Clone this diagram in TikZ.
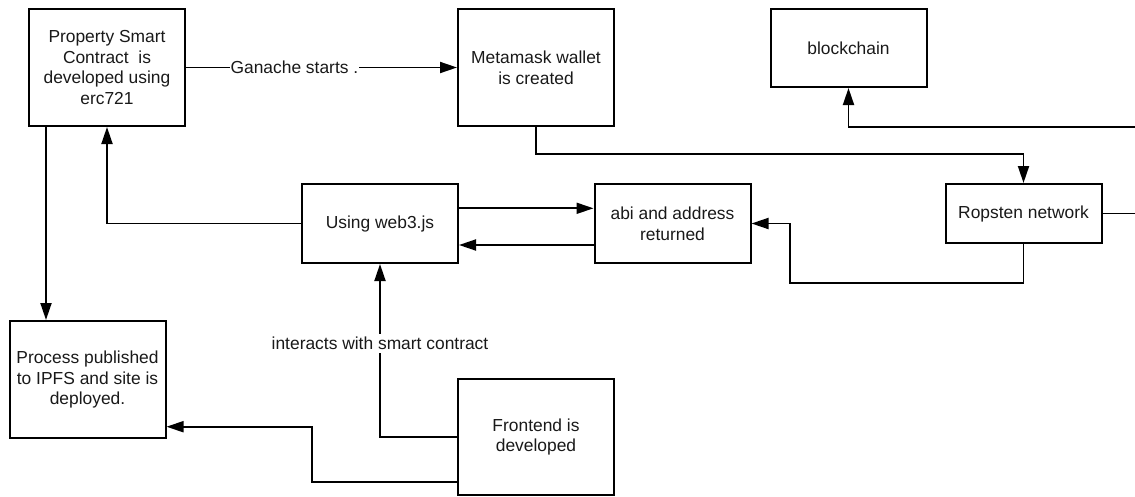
\documentclass[tikz,border=0pt]{standalone}
\usepackage{fontspec}
\setmainfont{Liberation Sans}
\usetikzlibrary{arrows.meta,calc}
\begin{document}
\begin{tikzpicture}[x=1pt,y=-1pt,
  box/.style={draw=black, line width=2pt, align=center, minimum width=156pt,
    font=\fontsize{17.4}{20.8}\selectfont, text=black!90, inner sep=0pt},
  conn/.style={line width=1.9pt, draw=black},
  arr/.style={conn, -{Triangle[length=17pt,width=11pt]}},
  lbl/.style={fill=white, font=\fontsize{17.4}{20.8}\selectfont, text=black!90, inner xsep=1pt, inner ysep=3pt}]
\path[use as bounding box] (0,0) rectangle (1135,496);
\clip (0,0) rectangle (1135,496);
\node[box, minimum height=117pt] (prop) at (107,67.5) {Property Smart\\Contract\ \ is\\developed using\\erc721};
\node[box, minimum height=117pt] (meta) at (536,67.5) {Metamask wallet\\is created};
\node[box, minimum height=78pt] (block) at (848.5,48) {blockchain};
\node[box, minimum height=79pt] (web3) at (380,223.5) {Using web3.js};
\node[box, minimum height=79pt] (abi) at (672.5,223.5) {abi and address\\returned};
\node[box, minimum height=59pt] (rop) at (1023.5,213.5) {Ropsten network};
\node[box, minimum height=117pt] (proc) at (87.5,379.5) {Process published\\to IPFS and site is\\deployed.};
\node[box, minimum height=116pt] (front) at (536,437) {Frontend is\\developed};
\coordinate (offR) at (1150,213.5);
% Ganache
\draw[arr] (prop.east) -- node[lbl, pos=0.4] {Ganache starts .} (meta.west);
% Metamask -> Ropsten
\draw[arr] (meta.south) -- (536,154) -- (1023.5,154) -- (rop.north);
% Ropsten -> blockchain (runs off the right edge)
\draw[arr] (rop.east) -- (offR) -- (1150,126.7) -- (848.5,126.7) -- (block.south);
% Ropsten -> abi
\draw[arr] (rop.south) -- (1023.5,283) -- (790,283) -- (790,223.5) -- (abi.east);
% web3 <-> abi
\draw[arr] ($(web3.east)+(0,-15.2)$) -- ($(abi.west)+(0,-15.2)$);
\draw[arr] ($(abi.west)+(0,21.5)$) -- ($(web3.east)+(0,21.5)$);
% web3 -> prop
\draw[arr] (web3.west) -- (107,223.5) -- (prop.south);
% prop -> proc
\draw[arr] ($(prop.south)+(-61,0)$) -- ($(proc.north)+(-41.5,0)$);
% front -> web3
\draw[arr] ($(front.west)+(0,0.3)$) -- (380,437.3) -- node[lbl, pos=0.54, inner xsep=2pt] {interacts with smart contract} (web3.south);
% front -> proc
\draw[arr] ($(front.west)+(0,45)$) -- (312.4,482) -- (312.4,426.7) -- ($(proc.east)+(0,47.2)$);
\end{tikzpicture}
\end{document}
